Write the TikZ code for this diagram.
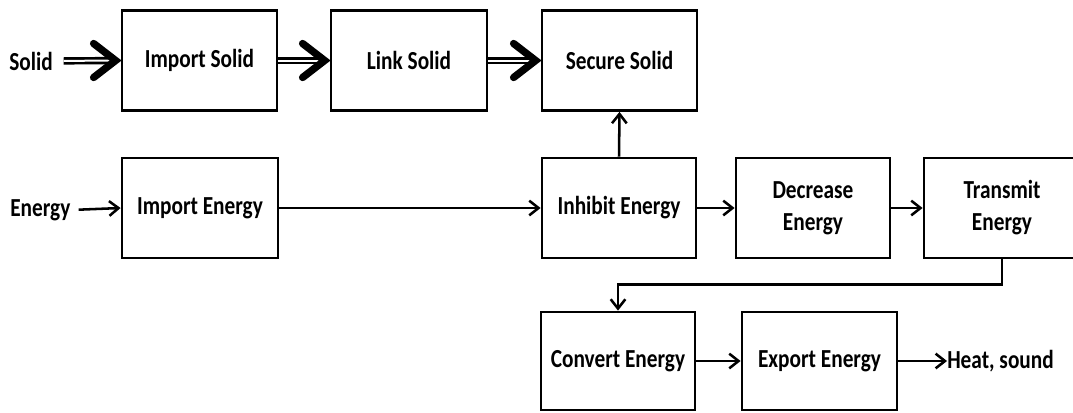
\documentclass[tikz,border=0pt]{standalone}
\usepackage{fontspec}
\setmainfont{Carlito}[FakeStretch=0.82]
\usetikzlibrary{arrows.meta}

\tikzset{
  every node/.style={font=\fontsize{19.5pt}{24pt}\selectfont\bfseries},
  box/.style={draw, line width=2.1pt, minimum height=75pt, inner sep=2pt, align=center},
  lbl/.style={inner sep=0pt},
  arr/.style={line width=1.9pt, -{Straight Barb[length=7pt,width=11pt]}},
  dshaft/.style={double, line width=2pt, double distance=1.5pt},
  chev/.style={line width=5.5pt, line cap=round, line join=miter}
}

\begin{document}
\begin{tikzpicture}[x=0.75pt, y=-0.75pt]
  \useasboundingbox (0,0) rectangle (1073,412);
  \clip (0,0) rectangle (1073,412);

  % material flow (solid)
  \node[lbl, anchor=west] (solid) at (9,61) {Solid};
  \node[box, minimum width=116.25pt] (isolid) at (199.5,60.5) {Import Solid};
  \node[box, minimum width=117pt]    (lsolid) at (409,60.5)   {Link Solid};
  \node[box, minimum width=116.25pt] (ssolid) at (619.5,60.5) {Secure Solid};

  % energy flow
  \node[lbl, anchor=west] (energy) at (10,210) {Energy};
  \node[box, minimum width=117pt]    (ienergy)  at (200,208)  {Import Energy};
  \node[box, minimum width=115.5pt]  (inhibit)  at (619,208)  {Inhibit Energy};
  \node[box, minimum width=115.5pt]  (decrease) at (813,208)  {Decrease\\Energy};
  \node[box, minimum width=117pt]    (transmit) at (1002,208) {Transmit\\Energy};
  \node[box, minimum width=115.5pt, minimum height=73.5pt] (convert) at (618,361)   {Convert Energy};
  \node[box, minimum width=116.25pt, minimum height=73.5pt] (export) at (819.5,361) {Export Energy};
  \node[lbl, anchor=west] (heat) at (947,361) {Heat, sound};

  % double arrows of the solid flow
  \draw[dshaft, shorten <=8pt] (solid.east) -- ([xshift=-4.5pt]isolid.west);
  \foreach \a/\b in {isolid/lsolid, lsolid/ssolid}{
    \draw[dshaft] (\a.east) -- ([xshift=-4.5pt]\b.west);
  }
  \foreach \b in {isolid, lsolid, ssolid}{
    \draw[chev] ([xshift=-20.25pt, yshift=12.75pt]\b.west)
             -- ([xshift=-3.75pt]\b.west)
             -- ([xshift=-20.25pt, yshift=-12.75pt]\b.west);
  }

  % single arrows of the energy flow
  \draw[arr, shorten <=6pt] (energy.east) -- (ienergy.west);
  \draw[arr] (ienergy.east) -- (inhibit.west);
  \draw[arr] (inhibit.north) -- (ssolid.south);
  \draw[arr] (inhibit.east) -- (decrease.west);
  \draw[arr] (decrease.east) -- (transmit.west);
  \draw[arr] (transmit.south) -- ++(0,25) -| (convert.north);
  \draw[arr] (convert.east) -- (export.west);
  \draw[arr] (export.east) -- (heat.west);
\end{tikzpicture}
\end{document}
